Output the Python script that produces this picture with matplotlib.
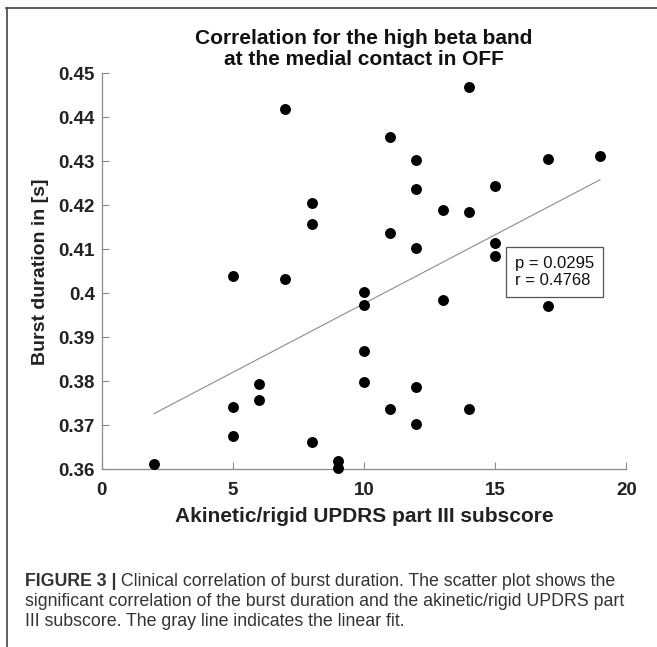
import numpy as np
import matplotlib
matplotlib.use("Agg")
import matplotlib.pyplot as plt
from matplotlib.lines import Line2D

plt.rcParams['font.family'] = ['Liberation Sans', 'DejaVu Sans']

# akinetic/rigid UPDRS III subscore vs burst duration
updrs = [2, 5, 5, 5, 6, 6, 7, 7, 8, 8, 8, 9, 9, 10, 10, 10, 10, 11, 11, 11,
         12, 12, 12, 12, 12, 13, 13, 14, 14, 14, 15, 15, 15, 17, 17, 19]
burst = [0.3613, 0.4039, 0.3741, 0.3675, 0.3793, 0.3758, 0.4419, 0.4032,
         0.4205, 0.4158, 0.3663, 0.3620, 0.3602, 0.4004, 0.3973, 0.3870,
         0.3798, 0.4356, 0.4137, 0.3736, 0.4302, 0.4236, 0.4102, 0.3786,
         0.3703, 0.4189, 0.3985, 0.4468, 0.4185, 0.3736, 0.4243, 0.4114,
         0.4084, 0.4306, 0.3972, 0.4312]
xticks = [0, 5, 10, 15, 20]
yticks = [0.36, 0.37, 0.38, 0.39, 0.40, 0.41, 0.42, 0.43, 0.44, 0.45]
ytick_labels = ['0.36', '0.37', '0.38', '0.39', '0.4', '0.41', '0.42', '0.43', '0.44', '0.45']
stats_text = "p = 0.0295\nr = 0.4768"

x = np.array(updrs)
y = np.array(burst)

fig = plt.figure(figsize=(6.57, 6.47), dpi=100)
ax = fig.add_axes([0.1548, 0.2746, 0.7985, 0.6121])

# linear fit
k, b = np.polyfit(x, y, 1)
xf = np.array([x.min(), x.max()])
ax.plot(xf, k * xf + b, color='#8c8c8c', lw=0.8, zorder=1)

ax.scatter(x, y, s=62, color='black', zorder=3, clip_on=False, linewidths=0)

ax.set_xlim(0, 20)
ax.set_ylim(0.36, 0.45)
ax.set_xticks(xticks)
ax.set_yticks(yticks)
ax.set_yticklabels(ytick_labels)
for s in ['top', 'right']:
    ax.spines[s].set_visible(False)
for s in ['left', 'bottom']:
    ax.spines[s].set_color('#8a8a8a')
    ax.spines[s].set_linewidth(0.9)
ax.tick_params(direction='in', length=5, width=0.8, color='#8a8a8a',
               labelsize=13.5)
ax.tick_params(axis='x', pad=9)
ax.tick_params(axis='y', pad=5)
for lab in ax.get_xticklabels() + ax.get_yticklabels():
    lab.set_fontweight('bold')
    lab.set_color('#222222')

ax.set_xlabel('Akinetic/rigid UPDRS part III subscore', fontsize=15,
              fontweight='bold', color='#222222', labelpad=6)
ax.set_ylabel('Burst duration in [s]', fontsize=14, fontweight='bold',
              color='#222222', labelpad=7)
ax.set_title('Correlation for the high beta band\nat the medial contact in OFF',
             fontsize=15, fontweight='bold', color='#111111', pad=6,
             linespacing=1.15)

ax.text(0.7879, 0.498, stats_text, transform=ax.transAxes, fontsize=12,
        va='center', ha='left', linespacing=1.2, color='#111111',
        bbox=dict(boxstyle='square,pad=0.55', fc='white', ec='#555555', lw=0.9))

# page frame (top and left rules)
fig.add_artist(Line2D([6 / 657, 1], [1 - 8 / 647, 1 - 8 / 647],
                      transform=fig.transFigure, color='#444444', lw=1.2))
fig.add_artist(Line2D([7 / 657, 7 / 657], [0, 1 - 8 / 647],
                      transform=fig.transFigure, color='#444444', lw=1.2))

# caption
cap_x = 25 / 657
cap_rows = [1 - 581 / 647, 1 - 601 / 647, 1 - 621 / 647]
cap_lines = [" Clinical correlation of burst duration. The scatter plot shows the",
             "significant correlation of the burst duration and the akinetic/rigid UPDRS part",
             "III subscore. The gray line indicates the linear fit."]
cap_size = 12.8
renderer = fig.canvas.get_renderer()
t0 = fig.text(cap_x, cap_rows[0], "FIGURE 3 |", fontsize=cap_size, fontweight='bold',
              color='#333333', va='center', ha='left')
bb = t0.get_window_extent(renderer)
fig.text(bb.x1 / fig.bbox.width, cap_rows[0], cap_lines[0], fontsize=cap_size,
         color='#333333', va='center', ha='left')
fig.text(cap_x, cap_rows[1], cap_lines[1], fontsize=cap_size, color='#333333',
         va='center', ha='left')
fig.text(cap_x, cap_rows[2], cap_lines[2], fontsize=cap_size, color='#333333',
         va='center', ha='left')

fig.savefig('out.png', dpi=100)
